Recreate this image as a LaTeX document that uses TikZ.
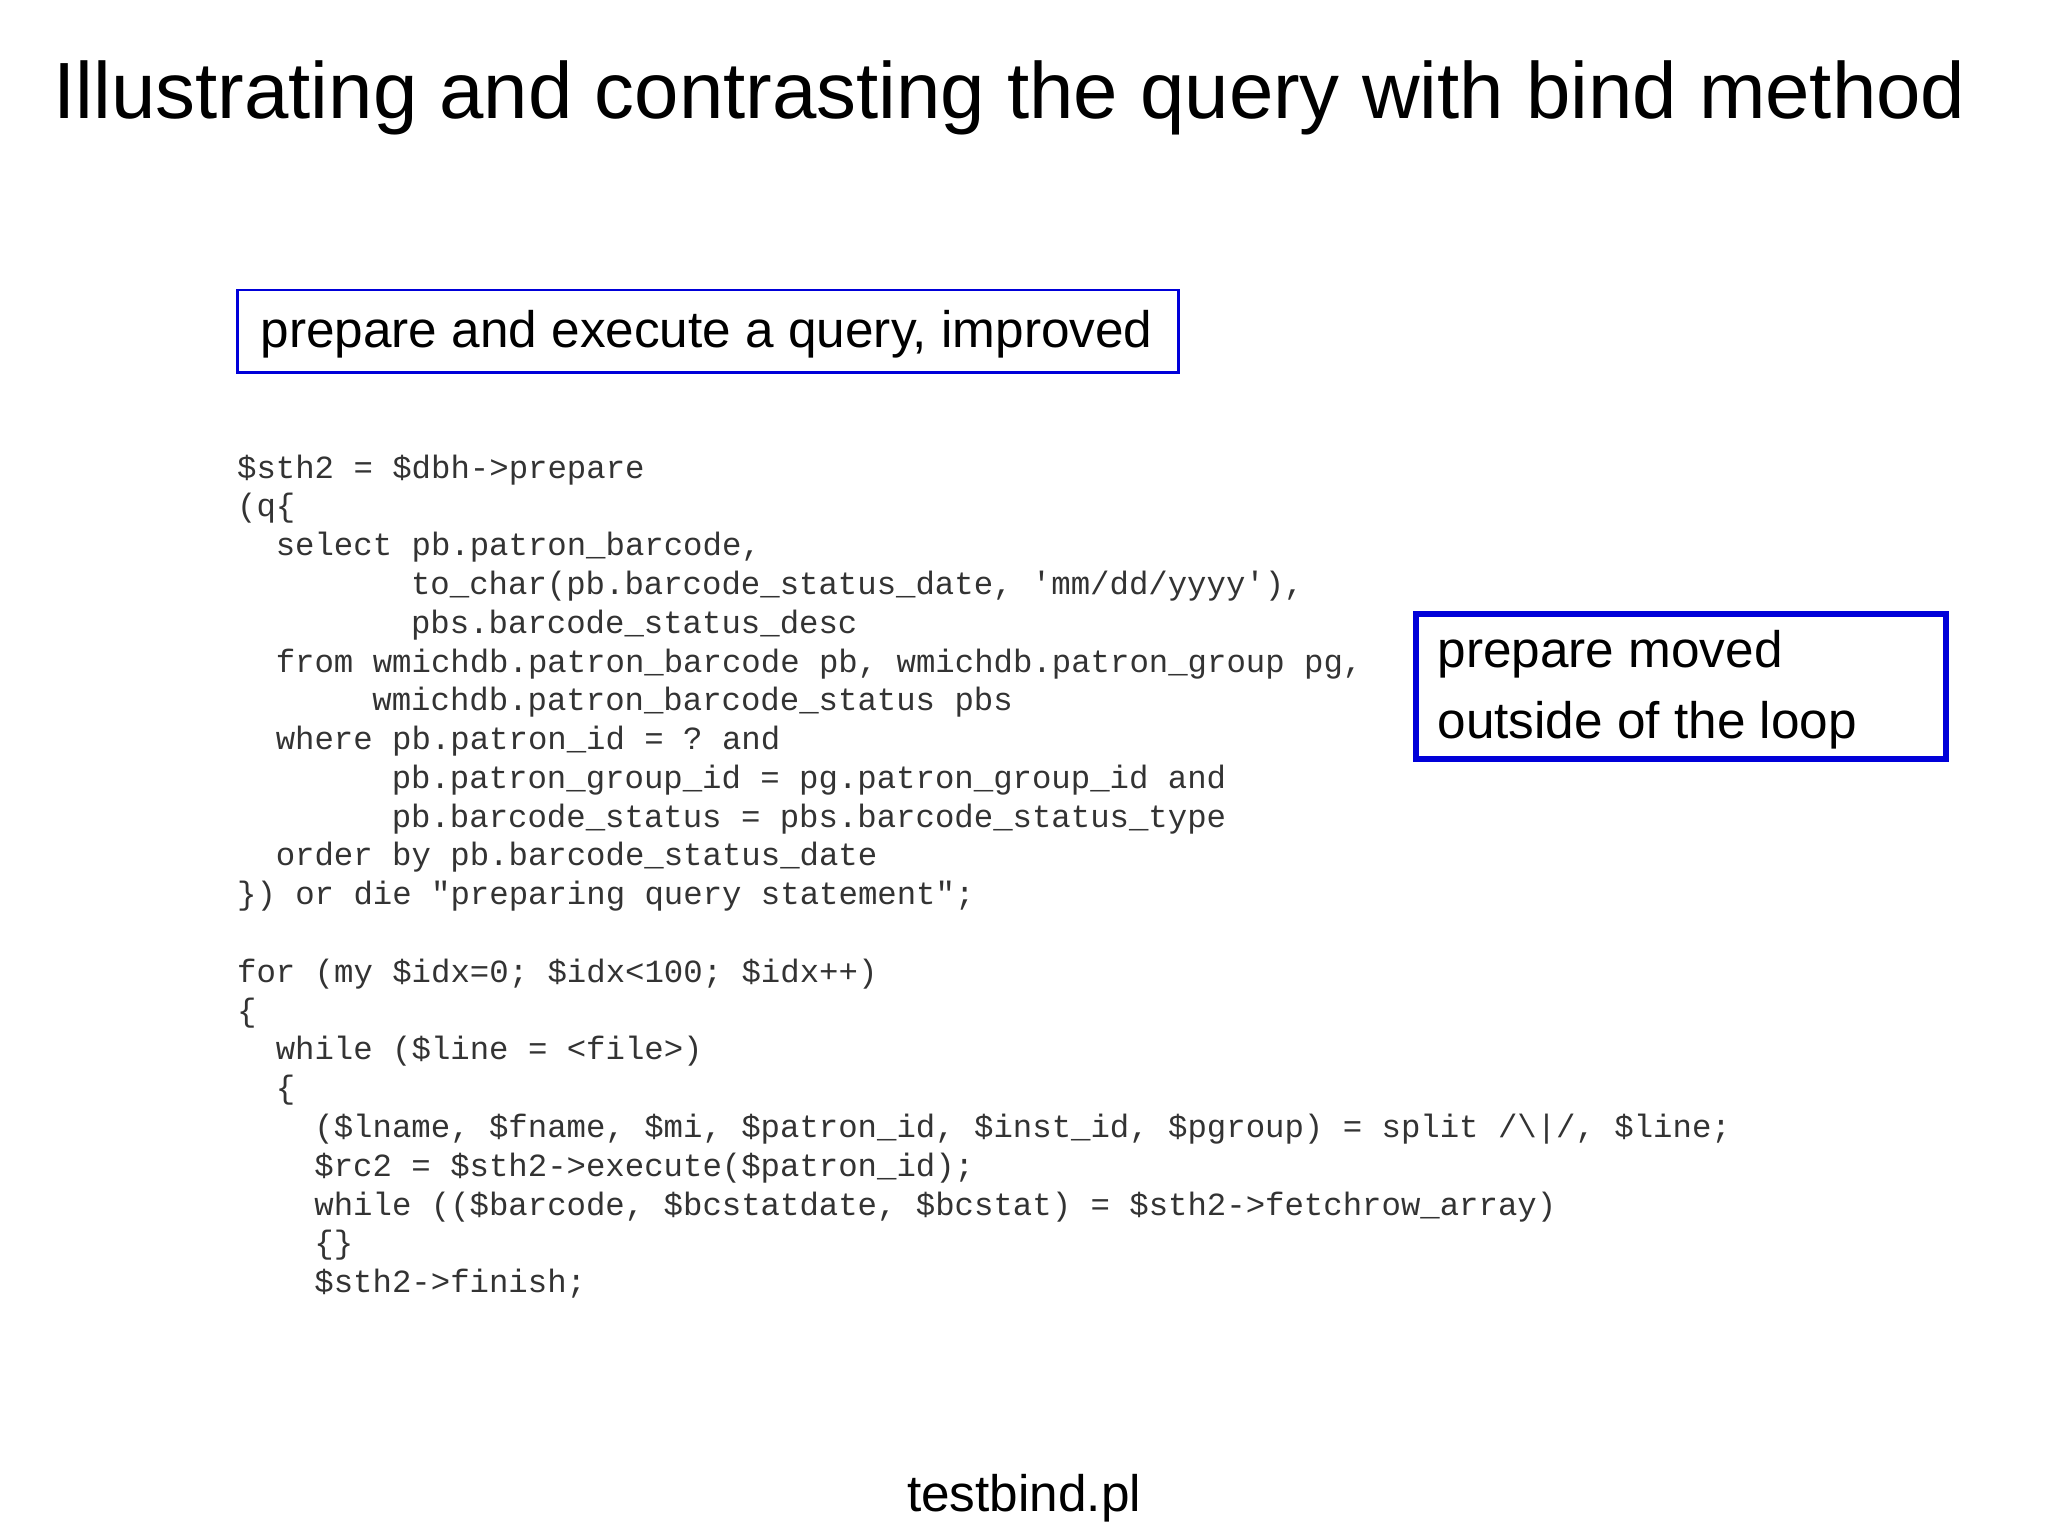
\documentclass[tikz,border=0pt]{standalone}
\usepackage{fontspec}
\setmainfont{Liberation Sans}
\setmonofont{Liberation Mono}
\begin{document}
\begin{tikzpicture}[x=0.1306mm,y=-0.1306mm,
  code/.style={anchor=base west,inner sep=0pt,font=\ttfamily\fontsize{9.2}{11}\selectfont,text=black!80},
  lbl/.style={font=\fontsize{14.6}{17}\selectfont,inner sep=0pt}]
\useasboundingbox (0,0) rectangle (1568,1176);
\node[inner sep=0pt,font=\fontsize{22.7}{26}\selectfont] (title) at (773,75) {Illustrating and contrasting the query with bind method};
\draw[blue!85!black,line width=0.8pt] (182,222) rectangle (902,285);
\node[lbl,anchor=west] (b1) at (199,256) {prepare and execute a query, improved};
\draw[blue!85!black,line width=1.6pt] (1084,470) rectangle (1490,581);
\node[lbl,anchor=west,align=left,font=\fontsize{14.6}{20.3}\selectfont] (b2) at (1100,528) {prepare moved\\outside of the loop};
\def\cw{14.8}
\foreach \i/\ind/\t in {
 0/0/{\$sth2 = \$dbh->prepare},
 1/0/{(q\{},
 2/2/{select pb.patron\_barcode,},
 3/9/{to\_char(pb.barcode\_status\_date, 'mm/dd/yyyy'),},
 4/9/{pbs.barcode\_status\_desc},
 5/2/{from wmichdb.patron\_barcode pb, wmichdb.patron\_group pg,},
 6/7/{wmichdb.patron\_barcode\_status pbs},
 7/2/{where pb.patron\_id = ? and},
 8/8/{pb.patron\_group\_id = pg.patron\_group\_id and},
 9/8/{pb.barcode\_status = pbs.barcode\_status\_type},
 10/2/{order by pb.barcode\_status\_date},
 11/0/{\}) or die "preparing query statement";},
 13/0/{for (my \$idx=0; \$idx<100; \$idx++)},
 14/0/{\{},
 15/2/{while (\$line = <file>)},
 16/2/{\{},
 17/4/{(\$lname, \$fname, \$mi, \$patron\_id, \$inst\_id, \$pgroup) = split /\textbackslash|/, \$line;},
 18/4/{\$rc2 = \$sth2->execute(\$patron\_id);},
 19/4/{while ((\$barcode, \$bcstatdate, \$bcstat) = \$sth2->fetchrow\_array)},
 20/4/{\{\}},
 21/4/{\$sth2->finish;}}
 \node[code] (c\i) at ({181+\ind*\cw},{366+\i*29.7}) {\t};
\node[inner sep=0pt,font=\fontsize{14.6}{17}\selectfont] (fn) at (784,1147) {testbind.pl};
\end{tikzpicture}
\end{document}
